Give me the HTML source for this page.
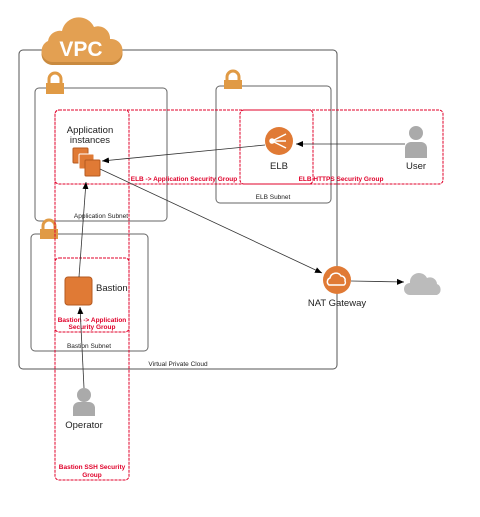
<!DOCTYPE html>
<html><head><style>
html,body{margin:0;padding:0;background:#fff;}
svg{display:block;font-family:"Liberation Sans",Arial,sans-serif;}
</style></head><body>
<svg width="480" height="517" viewBox="0 0 480 517" xmlns="http://www.w3.org/2000/svg">
<defs>
<marker id="a" markerWidth="8" markerHeight="8" refX="7" refY="4" orient="auto" markerUnits="userSpaceOnUse">
<path d="M0,1 L7,4 L0,7 Z" fill="#000"/></marker>
</defs>
<rect x="19" y="50" width="318" height="319" rx="4" fill="none" stroke="#555" stroke-width="1"/>
<rect x="35" y="88" width="132" height="133" rx="4" fill="none" stroke="#666"/>
<rect x="216" y="86" width="115" height="117" rx="4" fill="none" stroke="#666"/>
<rect x="31" y="234" width="117" height="117" rx="4" fill="none" stroke="#666"/>
<g fill="#e09a45" stroke="#e09a45">
<path d="M49,84 v-5 a6,6 0 0 1 12,0 v5" fill="none" stroke-width="3"/>
<rect x="46" y="83" width="18" height="11" stroke="none"/>
<path d="M227,81 v-4 a6,6 0 0 1 12,0 v4" fill="none" stroke-width="3"/>
<rect x="224" y="80" width="18" height="9" stroke="none"/>
<path d="M43,230 v-4 a6,6 0 0 1 12,0 v4" fill="none" stroke-width="3"/>
<rect x="40" y="229" width="18" height="10" stroke="none"/>
</g>
<path d="M52,65 a11,11 0 0 1 -4,-21 a12,12 0 0 1 14,-10 a17,17 0 0 1 32,-4 a12,12 0 0 1 16,12 a11,11 0 0 1 2,23 Z" fill="#c98a3f"/>
<path d="M52,62 a11,11 0 0 1 -4,-21 a12,12 0 0 1 14,-10 a17,17 0 0 1 32,-4 a12,12 0 0 1 16,12 a11,11 0 0 1 2,23 Z" fill="#e3a052"/>
<text x="81" y="56" font-size="21" fill="#fff" text-anchor="middle" font-weight="bold">VPC</text>
<g fill="none" stroke="#e0002a" stroke-dasharray="3,1" stroke-width="1">
<rect x="55" y="110" width="258" height="74" rx="4"/>
<rect x="240" y="110" width="203" height="74" rx="4"/>
<rect x="55" y="110" width="74" height="370" rx="4"/>
<rect x="55" y="258" width="74" height="74" rx="4"/>
</g>
<g fill="#e0002a" font-size="6.5" font-weight="bold" text-anchor="middle">
<text x="184" y="181">ELB -&gt; Application Security Group</text>
<text x="341" y="181">ELB HTTPS Security Group</text>
<text x="92" y="322">Bastion -&gt; Application</text>
<text x="92" y="329">Security Group</text>
<text x="92" y="469">Bastion SSH Security</text>
<text x="92" y="477">Group</text>
</g>
<g font-size="6.5" fill="#222" text-anchor="middle">
<text x="101" y="218">Application Subnet</text>
<text x="273" y="199">ELB Subnet</text>
<text x="89" y="348">Bastion Subnet</text>
<text x="178" y="366">Virtual Private Cloud</text>
</g>
<text x="90" y="133" font-size="9.5" fill="#222" text-anchor="middle">Application</text>
<text x="90" y="143" font-size="9.5" fill="#222" text-anchor="middle">instances</text>
<rect x="73" y="148" width="15" height="15" rx="1" fill="#e07a35" stroke="#b55a20"/>
<rect x="79" y="154" width="15" height="15" rx="1" fill="#e07a35" stroke="#fff"/>
<rect x="85" y="160" width="15" height="16" rx="1" fill="#e07a35" stroke="#b55a20"/>
<rect x="65" y="277" width="27" height="28" rx="3" fill="#e07a35" stroke="#b55a20"/>
<text x="96" y="291" font-size="9.5" fill="#222">Bastion</text>
<circle cx="279" cy="141" r="14" fill="#e07a35"/>
<g stroke="#fff" stroke-width="1.5" fill="#fff"><line x1="272" y1="141" x2="286" y2="134"/><line x1="272" y1="141" x2="286" y2="141"/><line x1="272" y1="141" x2="286" y2="148"/><circle cx="272" cy="141" r="2"/></g>
<text x="279" y="169" font-size="9.5" fill="#222" text-anchor="middle">ELB</text>
<g fill="#aaa"><circle cx="416" cy="133" r="7"/><path d="M405,158 v-10 a6,6 0 0 1 6,-6 h10 a6,6 0 0 1 6,6 v10 Z"/></g>
<text x="416" y="169" font-size="9.5" fill="#222" text-anchor="middle">User</text>
<g fill="#aaa"><circle cx="84" cy="395" r="7"/><path d="M73,416 v-8 a6,6 0 0 1 6,-6 h10 a6,6 0 0 1 6,6 v8 Z"/></g>
<text x="84" y="428" font-size="9.5" fill="#222" text-anchor="middle">Operator</text>
<circle cx="337" cy="280" r="14" fill="#e07a35"/>
<path d="M329,285 a4,4 0 0 1 1,-7 a6,6 0 0 1 11,-2 a4,4 0 0 1 4,5 a3,3 0 0 1 -1,4 Z" fill="none" stroke="#fff" stroke-width="1.5"/>
<text x="337" y="306" font-size="9.5" fill="#222" text-anchor="middle">NAT Gateway</text>
<path d="M410,295 a6,6 0 0 1 0,-12 a9,9 0 0 1 17,-5 a7,7 0 0 1 10,6 a6,6 0 0 1 0,11 Z" fill="#bbb"/>
<g stroke="#333" stroke-width="0.8" fill="none" marker-end="url(#a)">
<line x1="405" y1="144" x2="296" y2="144"/>
<line x1="265" y1="145" x2="102" y2="161"/>
<line x1="100" y1="169" x2="322" y2="273"/>
<line x1="79" y1="277" x2="86" y2="182"/>
<line x1="84" y1="388" x2="80" y2="307"/>
<line x1="351" y1="281" x2="404" y2="282"/>
</g>
</svg>
</body></html>
